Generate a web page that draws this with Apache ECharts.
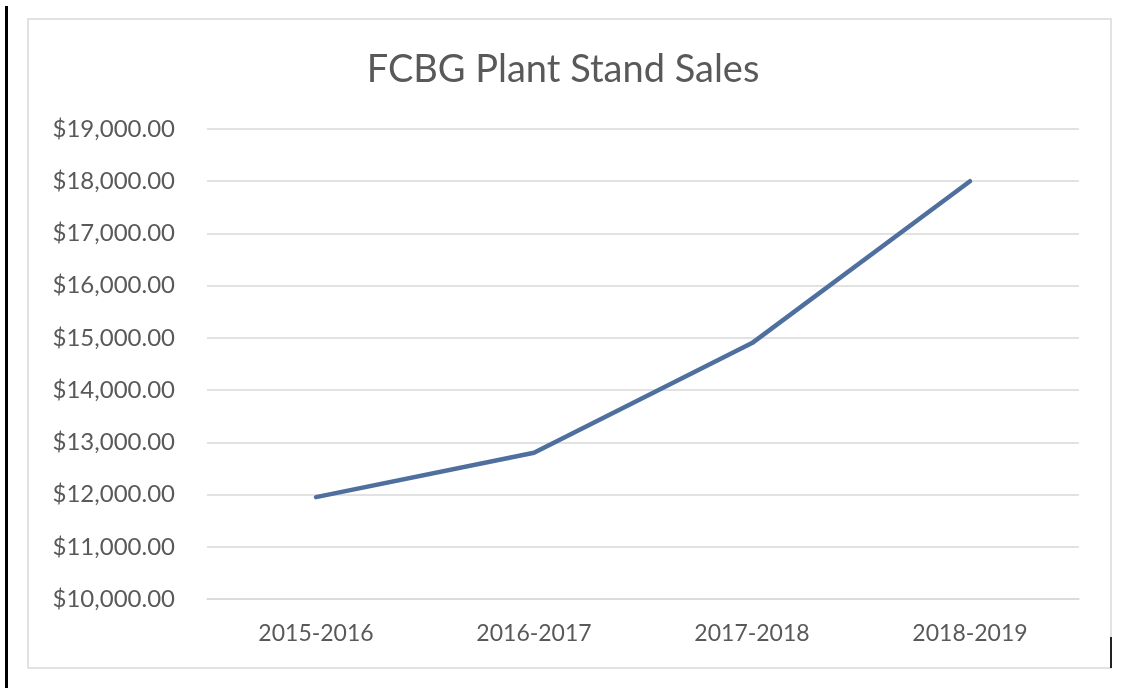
<!DOCTYPE html>
<html>
<head>
<meta charset="utf-8">
<script src="https://cdn.jsdelivr.net/npm/echarts@6/dist/echarts.min.js"></script>
<style>html,body{margin:0;padding:0;background:#fff;}#c{width:1126px;height:688px;}</style>
</head>
<body>
<div id="c"></div>
<script>
const titleText = "FCBG Plant Stand Sales";
const categories = ["2015-2016", "2016-2017", "2017-2018", "2018-2019"];
const sales = [11950, 12800, 14900, 18000];
const yMin = 10000, yMax = 19000, yStep = 1000;

const chart = echarts.init(document.getElementById('c'));
const fmt = v => '$' + v.toLocaleString('en-US', {minimumFractionDigits: 2, maximumFractionDigits: 2});
chart.setOption({
  backgroundColor: '#fff',
  animation: false,
  title: {
    text: titleText, left: 'center', top: 46,
    textStyle: {fontFamily: 'Lato', fontSize: 38, fontWeight: 'normal', color: '#595959'}
  },
  graphic: [
    {type: 'rect', shape: {x: 28, y: 19, width: 1083, height: 649}, style: {fill: 'none', stroke: '#d9d9d9', lineWidth: 1.5}},
    {type: 'line', shape: {x1: 6.5, y1: 6, x2: 6.5, y2: 688}, style: {stroke: '#000', lineWidth: 3}},
    {type: 'line', shape: {x1: 1111, y1: 637, x2: 1111, y2: 668}, style: {stroke: '#222', lineWidth: 2}}
  ],
  grid: {left: 207, right: 47, top: 129, bottom: 89},
  xAxis: {
    type: 'category', data: categories, boundaryGap: true,
    axisLine: {show: true, lineStyle: {color: '#d9d9d9', width: 1.5}},
    axisTick: {show: false},
    axisLabel: {margin: 23, fontFamily: 'Lato', fontSize: 23, color: '#595959'}
  },
  yAxis: {
    type: 'value', min: yMin, max: yMax, interval: yStep,
    axisLine: {show: false}, axisTick: {show: false},
    splitLine: {lineStyle: {color: '#d9d9d9', width: 1.5}},
    axisLabel: {formatter: fmt, margin: 32, fontFamily: 'Lato', fontSize: 24, color: '#595959'}
  },
  series: [{
    type: 'line', data: sales, symbol: 'none',
    lineStyle: {color: '#4f6f9f', width: 4.5, cap: 'round', join: 'round'}
  }]
});
</script>
</body>
</html>
